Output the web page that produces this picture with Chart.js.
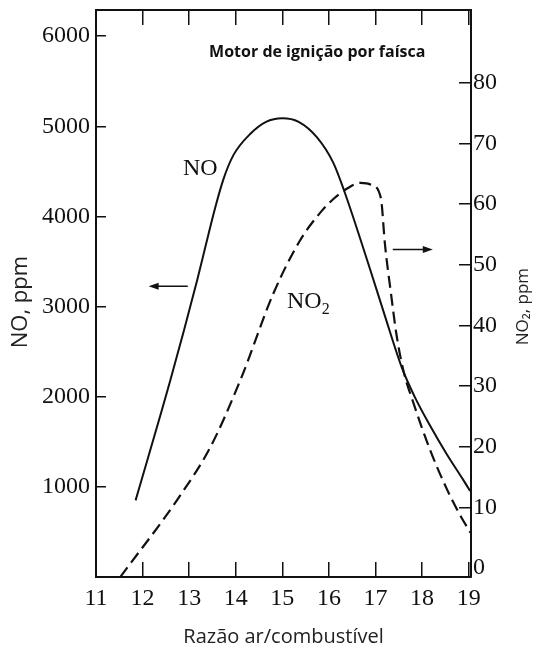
<!DOCTYPE html>
<html>
<head>
<meta charset="utf-8">
<script src="https://cdn.jsdelivr.net/npm/chart.js@4.4.1/dist/chart.umd.min.js"></script>
<style>
  body { margin: 0; background: #fff; }
</style>
</head>
<body>
<canvas id="myChart" width="536" height="650"></canvas>
<script>
// valores
var ratioNO = [11.85, 12.6, 13.17, 13.56, 13.74, 13.95, 14.32, 14.65, 15.0, 15.35, 15.74, 16.09, 16.31, 16.88, 17.2, 17.57, 17.85, 18.17, 18.52, 18.88, 19.03];
var noPpm = [850, 2190, 3290, 4100, 4420, 4680, 4920, 5050, 5090, 5050, 4880, 4600, 4310, 3420, 2900, 2317, 1990, 1680, 1370, 1080, 955];

var ratioNO2 = [11.52, 12.74, 13.46, 14.1, 14.81, 15.38, 15.86, 16.09, 16.4, 16.68, 16.9, 17.07, 17.13, 17.2, 17.33, 17.45, 17.6, 17.81, 18.17, 18.52, 18.81, 19.04];
var no2Ppm = [-1.5, 11.2, 20.0, 31.0, 45.3, 54.0, 59.0, 60.8, 62.6, 63.5, 63.2, 62.1, 60.2, 53.6, 45.4, 38.5, 32.5, 27.3, 19.5, 13.2, 8.8, 5.8];

var ratioTicks = [11, 12, 13, 14, 15, 16, 17, 18, 19];
var noTicks = [1000, 2000, 3000, 4000, 5000, 6000];
var no2Ticks = [0, 10, 20, 30, 40, 50, 60, 70, 80];

var ink = '#111';
var serif = '"Liberation Serif", "Times New Roman", serif';
var sans = '"Open Sans", "Noto Sans", sans-serif';

function toPoints(xs, ys) {
    return xs.map(function (x, i) {
        return { x: x, y: ys[i] };
    });
}

function fixedTicks(list) {
    return function (scale) {
        scale.ticks = list.map(function (v) { return { value: v }; });
    };
}

// tamanho fixo da caixa do eixo, sem folga extra para os rótulos
function fixedSize(prop, size) {
    return function (scale) {
        scale[prop] = size;
        scale.paddingTop = 0;
        scale.paddingBottom = 0;
        scale.paddingLeft = 0;
        scale.paddingRight = 0;
    };
}

function plain(value) {
    return String(value);
}

function arrow(c, x1, x2, y) {
    var dir = x2 > x1 ? 1 : -1;
    c.beginPath();
    c.moveTo(x1, y);
    c.lineTo(x2 - dir * 6, y);
    c.lineWidth = 1.6;
    c.stroke();
    c.beginPath();
    c.moveTo(x2, y);
    c.lineTo(x2 - dir * 10, y - 3.5);
    c.lineTo(x2 - dir * 10, y + 3.5);
    c.closePath();
    c.fill();
}

function verticalText(c, text, px, py, size) {
    c.save();
    c.translate(px, py);
    c.rotate(-Math.PI / 2);
    c.textAlign = 'center';
    c.textBaseline = 'middle';
    c.font = size + 'px ' + sans;
    c.fillStyle = '#222';
    c.fillText(text, 0, 0);
    c.restore();
}

var notes = {
    id: 'notes',
    afterDraw: function (chart) {
        var c = chart.ctx;
        var x = chart.scales.x, y = chart.scales.y, y1 = chart.scales.y1;
        c.save();
        c.fillStyle = ink;
        c.strokeStyle = ink;
        c.textAlign = 'center';
        c.textBaseline = 'middle';

        c.font = 'bold 16px ' + sans;
        c.fillText('Motor de ignição por faísca', x.getPixelForValue(15.75), y.getPixelForValue(5820));

        c.font = '24px ' + serif;
        c.fillText('NO', x.getPixelForValue(13.24), y.getPixelForValue(4534));

        c.textAlign = 'left';
        var lx = x.getPixelForValue(15.1), ly = y1.getPixelForValue(43.9);
        c.fillText('NO', lx, ly);
        var w = c.measureText('NO').width;
        c.font = '16px ' + serif;
        c.fillText('2', lx + w, ly + 8);

        arrow(c, x.getPixelForValue(12.97), x.getPixelForValue(12.13), y.getPixelForValue(3226));
        arrow(c, x.getPixelForValue(17.37), x.getPixelForValue(18.23), y1.getPixelForValue(52.5));
        c.restore();

        // títulos dos eixos verticais, lidos de baixo para cima
        verticalText(c, 'NO, ppm', y.left + 21, y.getPixelForValue(3050), 22);
        verticalText(c, 'NO₂, ppm', y1.right - 13, y.getPixelForValue(3000), 17);
    }
};

var axisGrid = function (len) {
    return {
        drawOnChartArea: false,
        drawTicks: true,
        tickLength: len,
        color: ink,
        lineWidth: 1.5
    };
};
var axisBorder = { display: true, color: ink, width: 2 };

var rightGrid = axisGrid(-12);
rightGrid.color = function (c) {
    return c.tick && c.tick.value === 0 ? 'rgba(0,0,0,0)' : ink;
};

var ctx = document.getElementById('myChart');
var myChart = new Chart(ctx, {
    type: 'line',
    data: {
        datasets: [
            {
                label: 'NO',
                data: toPoints(ratioNO, noPpm),
                yAxisID: 'y',
                borderColor: ink,
                borderWidth: 2,
                fill: false,
                pointRadius: 0,
                cubicInterpolationMode: 'monotone'
            },
            {
                label: 'NO2',
                data: toPoints(ratioNO2, no2Ppm),
                yAxisID: 'y1',
                borderColor: ink,
                borderWidth: 2.2,
                borderDash: [12, 6],
                fill: false,
                pointRadius: 0,
                cubicInterpolationMode: 'monotone'
            }
        ]
    },
    options: {
        responsive: false,
        animation: false,
        devicePixelRatio: 1,
        layout: { padding: 0 },
        plugins: {
            legend: { display: false },
            tooltip: { enabled: false }
        },
        scales: {
            x: {
                type: 'linear',
                position: 'bottom',
                min: 11,
                max: 19.05,
                afterBuildTicks: fixedTicks(ratioTicks),
                afterFit: fixedSize('height', 73),
                grid: axisGrid(-15),
                border: axisBorder,
                ticks: {
                    autoSkip: false,
                    maxRotation: 0,
                    padding: 22,
                    color: ink,
                    callback: plain,
                    font: { family: serif, size: 24 }
                },
                title: {
                    display: true,
                    text: 'Razão ar/combustível',
                    color: '#222',
                    padding: 1,
                    font: { family: sans, size: 20 }
                }
            },
            x2: {
                type: 'linear',
                axis: 'x',
                position: 'top',
                min: 11,
                max: 19.05,
                afterBuildTicks: fixedTicks(ratioTicks),
                afterFit: fixedSize('height', 10),
                grid: axisGrid(-15),
                border: axisBorder,
                ticks: { display: false }
            },
            y: {
                type: 'linear',
                position: 'left',
                min: 0,
                max: 6290,
                afterBuildTicks: fixedTicks(noTicks),
                afterFit: fixedSize('width', 96),
                grid: axisGrid(-10),
                border: axisBorder,
                ticks: {
                    autoSkip: false,
                    padding: 16,
                    color: ink,
                    callback: plain,
                    font: { family: serif, size: 24 }
                }
            },
            y1: {
                type: 'linear',
                position: 'right',
                min: -1.49,
                max: 92,
                afterBuildTicks: fixedTicks(no2Ticks),
                afterFit: fixedSize('width', 65),
                grid: rightGrid,
                border: axisBorder,
                ticks: {
                    autoSkip: false,
                    padding: 14,
                    color: ink,
                    callback: plain,
                    font: { family: serif, size: 24 }
                }
            }
        }
    },
    plugins: [notes]
});
</script>
</body>
</html>
